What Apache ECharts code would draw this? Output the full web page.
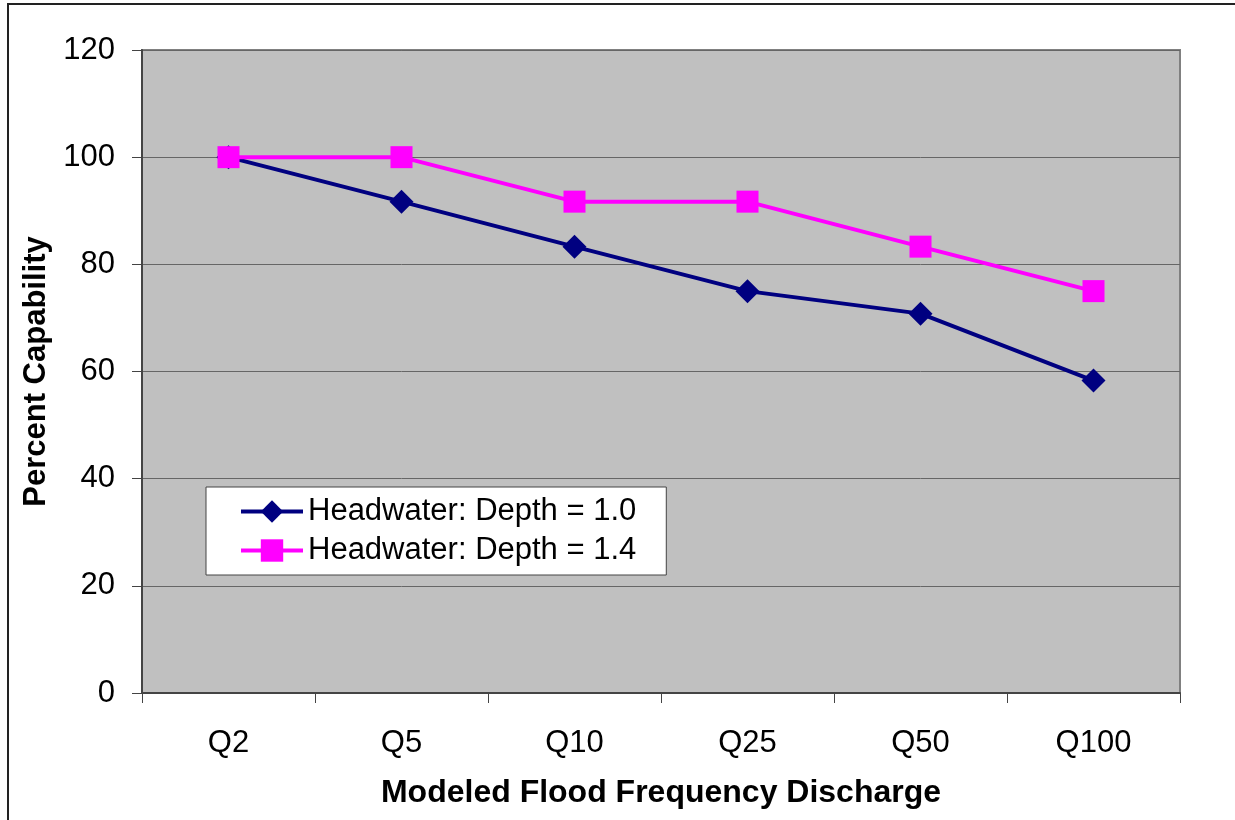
<!DOCTYPE html>
<html>
<head>
<meta charset="utf-8">
<script src="https://cdn.jsdelivr.net/npm/echarts@6/dist/echarts.min.js"></script>
<style>
  html, body { margin: 0; padding: 0; background: #fff; }
  #main { width: 1235px; height: 820px; }
</style>
</head>
<body>
<div id="main"></div>
<script>
// 数据
const categories = ['Q2', 'Q5', 'Q10', 'Q25', 'Q50', 'Q100']
const depth10 = [100, 91.7, 83.3, 75, 70.8, 58.3]
const depth14 = [100, 100, 91.7, 91.7, 83.3, 75]
const yTicks = { min: 0, max: 120, interval: 20 }

const chart = echarts.init(document.getElementById('main'))
const font = 'Arial, "Liberation Sans", sans-serif'

let option = {
  animation: false,
  graphic: [
    {
      // 外框
      type: 'rect',
      shape: { x: 8, y: 4, width: 1240, height: 830 },
      style: { fill: 'none', stroke: '#222', lineWidth: 2 },
      z: 0
    }
  ],
  grid: {
    left: 142,
    right: 55,
    top: 50,
    bottom: 127,
    show: true,
    backgroundColor: '#c0c0c0',
    borderColor: '#808080',
    borderWidth: 2
  },
  legend: {
    left: 206,
    top: 487,
    orient: 'vertical',
    backgroundColor: '#fff',
    borderColor: '#444',
    borderWidth: 1,
    padding: [9, 30, 9, 33],
    itemGap: 8,
    itemWidth: 62,
    itemHeight: 28,
    lineStyle: { width: 4 },
    textStyle: { fontFamily: font, fontSize: 31, color: '#000' },
    data: ['Headwater: Depth = 1.0', 'Headwater: Depth = 1.4']
  },
  xAxis: {
    type: 'category',
    data: categories,
    boundaryGap: true,
    name: 'Modeled Flood Frequency Discharge',
    nameLocation: 'middle',
    nameGap: 84,
    nameTextStyle: { fontFamily: font, fontSize: 32, fontWeight: 'bold', color: '#000' },
    axisLine: { lineStyle: { color: '#444', width: 2 } },
    axisTick: { show: true, length: 10, lineStyle: { color: '#444', width: 1 } },
    axisLabel: { fontFamily: font, fontSize: 31, color: '#000', margin: 35 },
    splitLine: { show: false }
  },
  yAxis: {
    type: 'value',
    min: yTicks.min,
    max: yTicks.max,
    interval: yTicks.interval,
    name: 'Percent Capability',
    nameLocation: 'middle',
    nameGap: 88,
    nameTextStyle: { fontFamily: font, fontSize: 31, fontWeight: 'bold', color: '#000' },
    axisLine: { show: true, lineStyle: { color: '#444', width: 2 } },
    axisTick: { show: true, length: 10, lineStyle: { color: '#444', width: 1 } },
    axisLabel: { fontFamily: font, fontSize: 31, color: '#000', margin: 27 },
    splitLine: { show: true, lineStyle: { color: '#666', width: 1 } }
  },
  series: [
    {
      name: 'Headwater: Depth = 1.0',
      type: 'line',
      data: depth10,
      symbol: 'diamond',
      symbolSize: 24,
      lineStyle: { color: '#000080', width: 4 },
      itemStyle: { color: '#000080' },
      z: 3
    },
    {
      name: 'Headwater: Depth = 1.4',
      type: 'line',
      data: depth14,
      symbol: 'rect',
      symbolSize: 22,
      lineStyle: { color: '#ff00ff', width: 4 },
      itemStyle: { color: '#ff00ff' },
      z: 4
    }
  ]
}
chart.setOption(option)
</script>
</body>
</html>
